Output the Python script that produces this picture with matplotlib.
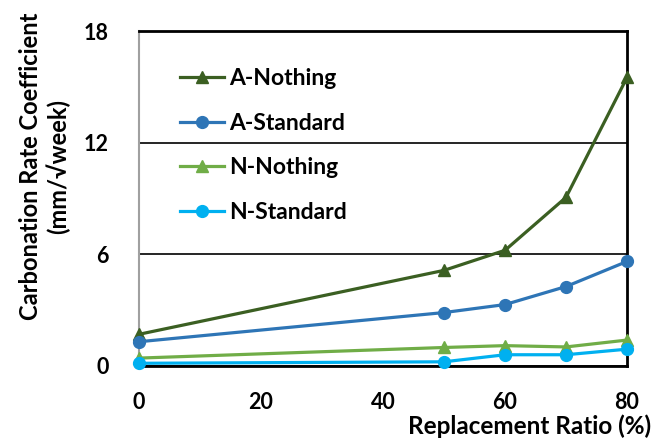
import matplotlib.pyplot as plt

ratio = [0, 50, 60, 70, 80]
a_nothing = [1.68, 5.12, 6.2, 9.05, 15.5]
a_standard = [1.28, 2.85, 3.28, 4.25, 5.6]
n_nothing = [0.4, 0.97, 1.07, 1.0, 1.37]
n_standard = [0.12, 0.2, 0.58, 0.58, 0.88]

series = [
    ("A-Nothing", a_nothing, "#3b5f22", "^"),
    ("A-Standard", a_standard, "#2e75b6", "o"),
    ("N-Nothing", n_nothing, "#70ad47", "^"),
    ("N-Standard", n_standard, "#00b0f0", "o"),
]


def main():
    plt.rcParams['font.family'] = ['Lato', 'DejaVu Sans']

    fig = plt.figure(figsize=(6.61, 4.43), dpi=100)
    ax = fig.add_axes([0.2103, 0.1749, 0.7383, 0.7551])

    for name, vals, color, marker in series:
        ax.plot(ratio, vals, color=color, marker=marker, lw=2.3, ms=8.5,
                label=name, clip_on=False, zorder=3)

    ax.set_xlim(0, 80)
    ax.set_ylim(0, 18)
    ax.set_xticks([0, 20, 40, 60, 80])
    ax.set_yticks([0, 6, 12, 18])
    ax.tick_params(length=0, labelsize=15.5)
    ax.tick_params(axis='y', pad=22)
    ax.tick_params(axis='x', pad=19)
    for t in ax.get_xticklabels() + ax.get_yticklabels():
        t.set_fontweight('bold')

    ax.grid(axis='y', color='black', lw=1.2)
    ax.set_axisbelow(True)
    for side in ['top', 'right', 'bottom']:
        ax.spines[side].set_color('black')
        ax.spines[side].set_linewidth(2)
    ax.spines['left'].set_color('#a0a0a0')
    ax.spines['left'].set_linewidth(1.5)

    ax.set_xlabel("Replacement Ratio (%)", fontsize=17.5, fontweight='bold')
    ax.xaxis.set_label_coords(0.80, -0.145)
    ax.set_ylabel("Carbonation Rate Coefficient\n(mm/\u221aweek)", fontsize=17,
                  fontweight='bold', linespacing=1.2)
    ax.yaxis.set_label_coords(-0.14, 0.595)

    ax.legend(loc='upper left', bbox_to_anchor=(0.042, 0.952), frameon=False,
              prop={'size': 16.5, 'weight': 'bold'}, labelspacing=1.04,
              handlelength=1.9, handletextpad=0.22)

    plt.savefig('out.png', dpi=100)


if __name__ == "__main__":
    main()
